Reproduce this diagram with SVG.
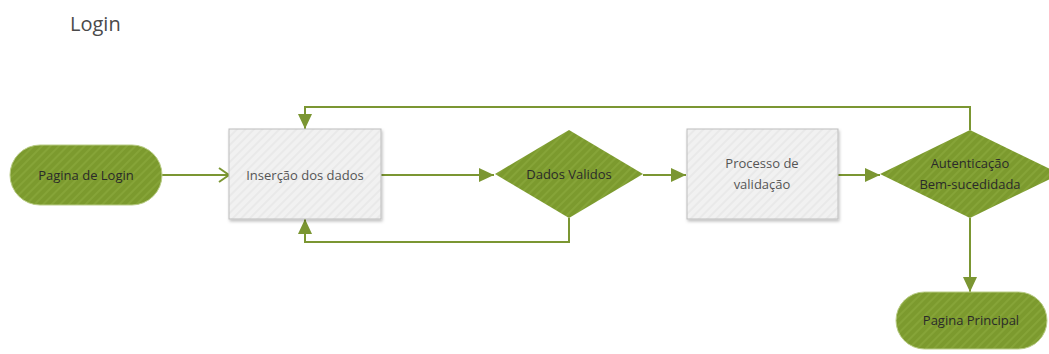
<svg xmlns="http://www.w3.org/2000/svg" width="1049" height="354" viewBox="0 0 1049 354">
<style>
.lbl{font-family:"Open Sans","Liberation Sans",sans-serif;font-size:13px;fill:#2a2a2a;text-anchor:middle}
.lbl2{font-family:"Open Sans","Liberation Sans",sans-serif;font-size:13px;fill:#555;text-anchor:middle}
.term{fill:url(#gstripe);stroke:#b9cc86;stroke-width:1}
.dec{fill:url(#gstripe)}
.proc{fill:url(#wstripe);stroke:#bdbdbd;stroke-width:1;filter:url(#sh)}
.con{fill:none;stroke:#7b9632;stroke-width:2}
</style>
<defs>
<pattern id="gstripe" width="6" height="6" patternUnits="userSpaceOnUse" patternTransform="rotate(45)">
<rect width="6" height="6" fill="#7c9a2e"/>
<rect width="2" height="6" fill="#86a438"/>
</pattern>
<pattern id="wstripe" width="6" height="6" patternUnits="userSpaceOnUse" patternTransform="rotate(45)">
<rect width="6" height="6" fill="#f1f1f1"/>
<rect width="2" height="6" fill="#e9e9e9"/>
</pattern>
<filter id="sh" x="-10%" y="-10%" width="125%" height="130%">
<feDropShadow dx="1" dy="2" stdDeviation="1.5" flood-color="#000" flood-opacity="0.25"/>
</filter>
<marker id="fa" markerWidth="16" markerHeight="14" refX="15" refY="7" orient="auto" markerUnits="userSpaceOnUse">
<path d="M0,0 L15,7 L0,14 Z" fill="#7b9632"/>
</marker>
<marker id="oa" markerWidth="14" markerHeight="16" refX="12" refY="8" orient="auto" markerUnits="userSpaceOnUse">
<path d="M2,1 L12,8 L2,15" fill="none" stroke="#7b9632" stroke-width="2"/>
</marker>
</defs>
<text x="70" y="31" font-family="'Open Sans','Liberation Sans',sans-serif" font-size="20" fill="#4a4a4a">Login</text>
<g id="connectors">
<path class="con" d="M162,175 L229,175" marker-end="url(#oa)"/>
<path class="con" d="M381,175 L494,175" marker-end="url(#fa)"/>
<path class="con" d="M643,175 L686,175" marker-end="url(#fa)"/>
<path class="con" d="M838,175 L880,175" marker-end="url(#fa)"/>
<path class="con" d="M970,130 L970,107 L305,107 L305,129" marker-end="url(#fa)"/>
<path class="con" d="M569,218 L569,242 L305,242 L305,219" marker-end="url(#fa)"/>
<path class="con" d="M970,218 L970,292" marker-end="url(#fa)"/>
</g>
<g id="pagina-login">
<rect class="term" x="10" y="145" width="152" height="60" rx="30"/>
<text class="lbl" x="86" y="180">Pagina de Login</text>
</g>
<g id="insercao">
<rect class="proc" x="229" y="129" width="152" height="90"/>
<text class="lbl2" x="305" y="180">Inserção dos dados</text>
</g>
<g id="dados-validos">
<polygon class="dec" points="569,130 643,174 569,218 495,174"/>
<text class="lbl" x="569" y="179">Dados Validos</text>
</g>
<g id="processo">
<rect class="proc" x="687" y="129" width="151" height="90"/>
<text class="lbl2" x="762" y="168">Processo de</text>
<text class="lbl2" x="762" y="189">validação</text>
</g>
<g id="autenticacao">
<polygon class="dec" points="970,130 1060,174 970,218 880,174"/>
<text class="lbl" x="970" y="168">Autenticação</text>
<text class="lbl" x="970" y="189">Bem-sucedidada</text>
</g>
<g id="pagina-principal">
<rect class="term" x="896" y="292" width="151" height="57" rx="28.5"/>
<text class="lbl" x="971" y="325">Pagina Principal</text>
</g>
</svg>
